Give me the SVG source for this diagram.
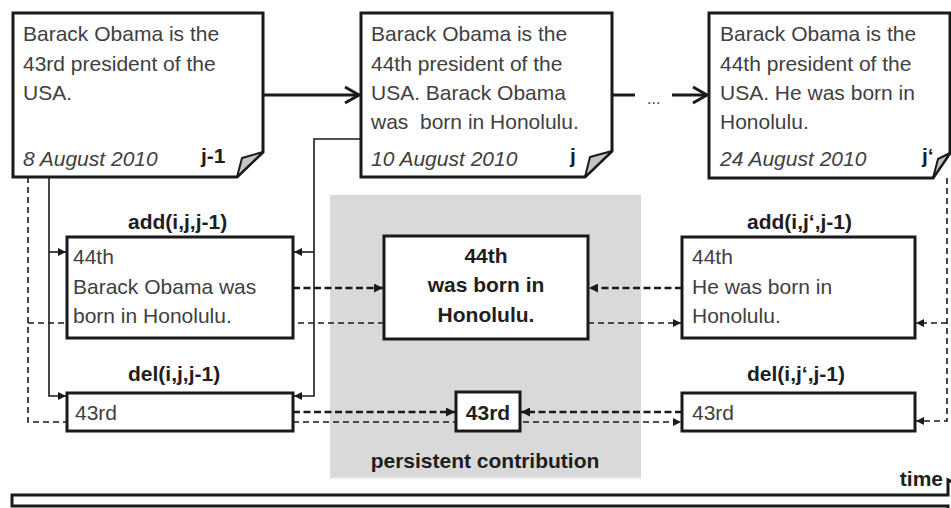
<svg xmlns="http://www.w3.org/2000/svg" width="951" height="508" viewBox="0 0 951 508">
  <style>
    text { font-family: "Liberation Sans", Arial, sans-serif; font-size: 21px; }
    .body { fill: #404040; }
    .date { fill: #404040; font-style: italic; }
    .lbl { fill: #1e1e1e; font-weight: bold; }
    .page { fill: #ffffff; stroke: #1a1a1a; stroke-width: 3; stroke-linejoin: miter; }
    .fold { fill: #c4c4c4; stroke: #1a1a1a; stroke-width: 2; stroke-linejoin: round; }
    .box { fill: #ffffff; stroke: #1a1a1a; stroke-width: 3; }
    .solid { fill: none; stroke: #1a1a1a; stroke-width: 1.6; }
    .flow { fill: none; stroke: #1a1a1a; stroke-width: 3; }
    .chev { fill: none; stroke: #1a1a1a; stroke-width: 3; stroke-linejoin: miter; }
    .thick { fill: none; stroke: #1a1a1a; stroke-width: 2.6; stroke-dasharray: 7 3.5; }
    .thin { fill: none; stroke: #1a1a1a; stroke-width: 1.6; stroke-dasharray: 6 4; }
  </style>
  <defs>
    <marker id="tip" viewBox="0 0 8 8" refX="8" refY="4" markerWidth="8" markerHeight="8" markerUnits="userSpaceOnUse" orient="auto">
      <path d="M0,0 L8,4 L0,8 Z" fill="#1a1a1a"/>
    </marker>
    <marker id="tipBig" viewBox="0 0 8 8" refX="8" refY="4" markerWidth="9" markerHeight="9" markerUnits="userSpaceOnUse" orient="auto">
      <path d="M0,0 L8,4 L0,8 Z" fill="#1a1a1a"/>
    </marker>
  </defs>

  <rect width="951" height="508" fill="#ffffff"/>

  <!-- shaded region for the persistent part -->
  <g id="persistent">
    <rect x="330" y="195" width="311" height="284" fill="#d9d9d9"/>
    <line x1="331" y1="478" x2="640" y2="478" stroke="#ececec" stroke-width="1.5"/>
    <text class="lbl" x="485" y="468" text-anchor="middle">persistent contribution</text>
  </g>

  <!-- connectors -->
  <g id="connectors">
    <!-- revision sequence -->
    <line class="flow" x1="263" y1="95" x2="359" y2="95"/>
    <polyline class="chev" points="345,87 359,95 345,103"/>
    <line class="flow" x1="612" y1="95" x2="635" y2="95"/>
    <text x="647" y="104" style="font-size:16px" fill="#404040">...</text>
    <line class="flow" x1="672" y1="95" x2="707" y2="95"/>
    <polyline class="chev" points="693,87 707,95 693,103"/>

    <!-- from revision j-1 -->
    <path class="solid" d="M49,177 V396 H66" marker-end="url(#tip)"/>
    <path class="solid" d="M49,252 H66" marker-end="url(#tip)"/>
    <path class="thin" d="M28,177 V422 H681" marker-end="url(#tip)"/>
    <path class="thin" d="M28,323 H681" marker-end="url(#tip)"/>

    <!-- from revision j -->
    <path class="solid" d="M361,139 H314 V396 H294" marker-end="url(#tip)"/>
    <path class="solid" d="M314,252 H294" marker-end="url(#tip)"/>

    <!-- from revision j' -->
    <path class="thin" d="M947,178 V421 H916" marker-end="url(#tip)"/>
    <path class="thin" d="M947,323 H916" marker-end="url(#tip)"/>

    <!-- contributions into the persistent part -->
    <path class="thick" d="M293,288 H383" marker-end="url(#tipBig)"/>
    <path class="thick" d="M682,288 H589" marker-end="url(#tipBig)"/>
    <path class="thick" d="M293,412 H455" marker-end="url(#tipBig)"/>
    <path class="thick" d="M682,412 H521" marker-end="url(#tipBig)"/>
  </g>

  <!-- revision j-1 -->
  <g id="rev-j-1">
    <path class="page" d="M13,13 H263 V152 L237,177 H13 Z"/>
    <path class="fold" d="M237,177 L242,158 L263,152 Z"/>
    <text class="body" x="23" y="41">Barack Obama is the</text>
    <text class="body" x="23" y="71">43rd president of the</text>
    <text class="body" x="23" y="100">USA.</text>
    <text class="date" x="23" y="166">8 August 2010</text>
    <text class="lbl" x="201" y="163">j-1</text>
  </g>

  <!-- revision j -->
  <g id="rev-j">
    <path class="page" d="M361,13 H612 V151 L585,177 H361 Z"/>
    <path class="fold" d="M585,177 L590,157 L612,151 Z"/>
    <text class="body" x="371" y="41">Barack Obama is the</text>
    <text class="body" x="371" y="71">44th president of the</text>
    <text class="body" x="371" y="100">USA. Barack Obama</text>
    <text class="body" x="371" y="129" xml:space="preserve">was  born in Honolulu.</text>
    <text class="date" x="371" y="166">10 August 2010</text>
    <text class="lbl" x="570" y="163">j</text>
  </g>

  <!-- revision j' -->
  <g id="rev-j2">
    <path class="page" d="M709,13 H950 V153 L933,178 H709 Z"/>
    <path class="fold" d="M933,178 L938,159 L950,153 Z"/>
    <text class="body" x="720" y="41">Barack Obama is the</text>
    <text class="body" x="720" y="71">44th president of the</text>
    <text class="body" x="720" y="100">USA. He was born in</text>
    <text class="body" x="720" y="129">Honolulu.</text>
    <text class="date" x="720" y="166">24 August 2010</text>
    <text class="lbl" x="922" y="163">j‘</text>
  </g>

  <!-- add(i,j,j-1) -->
  <g id="add-j">
    <text class="lbl" x="128" y="229">add(i,j,j-1)</text>
    <rect class="box" x="67" y="237" width="226" height="101"/>
    <text class="body" x="73" y="264">44th</text>
    <text class="body" x="73" y="294">Barack Obama was</text>
    <text class="body" x="73" y="323">born in Honolulu.</text>
  </g>

  <!-- del(i,j,j-1) -->
  <g id="del-j">
    <text class="lbl" x="128" y="381">del(i,j,j-1)</text>
    <rect class="box" x="67" y="393" width="226" height="38"/>
    <text class="body" x="75" y="420">43rd</text>
  </g>

  <!-- persistent addition -->
  <g id="persist-add">
    <rect class="box" x="384" y="236" width="204" height="103"/>
    <text class="lbl" x="486" y="263" text-anchor="middle">44th</text>
    <text class="lbl" x="486" y="292" text-anchor="middle">was born in</text>
    <text class="lbl" x="486" y="322" text-anchor="middle">Honolulu.</text>
  </g>

  <!-- persistent deletion -->
  <g id="persist-del">
    <rect class="box" x="456" y="392" width="64" height="39"/>
    <text class="lbl" x="488" y="420" text-anchor="middle">43rd</text>
  </g>

  <!-- add(i,j',j-1) -->
  <g id="add-j2">
    <text class="lbl" x="747" y="229">add(i,j‘,j-1)</text>
    <rect class="box" x="682" y="237" width="233" height="101"/>
    <text class="body" x="692" y="264">44th</text>
    <text class="body" x="692" y="294">He was born in</text>
    <text class="body" x="692" y="323">Honolulu.</text>
  </g>

  <!-- del(i,j',j-1) -->
  <g id="del-j2">
    <text class="lbl" x="747" y="381">del(i,j‘,j-1)</text>
    <rect class="box" x="682" y="393" width="233" height="38"/>
    <text class="body" x="692" y="420">43rd</text>
  </g>

  <!-- time axis -->
  <g id="time">
    <path d="M12,495 H948 V480 L990,500 L948,520 V506 H12 Z" fill="#ffffff" stroke="#1a1a1a" stroke-width="3"/>
    <text class="lbl" x="943" y="486" text-anchor="end">time</text>
  </g>
</svg>
